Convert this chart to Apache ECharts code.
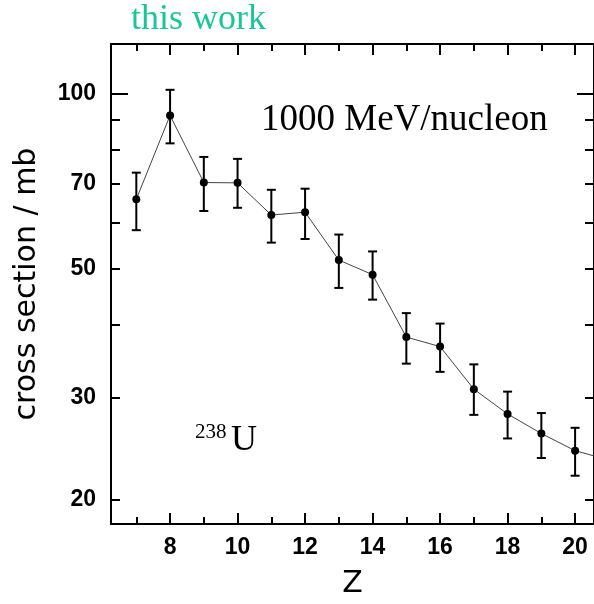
<!DOCTYPE html>
<html>
<head>
<meta charset="utf-8">
<script src="https://cdn.jsdelivr.net/npm/echarts@6/dist/echarts.min.js"></script>
<style>
  html, body { margin: 0; padding: 0; background: #ffffff; }
  #chart { width: 594px; height: 604px; }
</style>
</head>
<body>
<div id="chart"></div>
<script>
// Fragment charge Z and measured cross sections (mb) with error bar bounds
const zValues      = [7, 8, 9, 10, 11, 12, 13, 14, 15, 16, 17, 18, 19, 20, 21];
const crossSection = [65.8, 91.7, 70.3, 70.2, 61.8, 62.5, 51.7, 48.8, 38.1, 36.7, 31.0, 28.1, 26.0, 24.3, 23.4];
const errUpper     = [73.1, 101.5, 77.8, 77.2, 68.3, 68.6, 57.2, 53.5, 41.9, 40.2, 34.2, 30.7, 28.2, 26.6, 25.6];
const errLower     = [58.2, 82.1, 62.8, 63.6, 55.4, 56.2, 46.3, 44.2, 34.3, 33.2, 28.0, 25.5, 23.6, 22.0, 21.3];

// Axis ticks and ranges
const xMajorTicks  = [8, 10, 12, 14, 16, 18, 20];
const xMinorTicks  = [7, 9, 11, 13, 15, 17, 19];
const yLabelTicks  = [20, 30, 50, 70, 100];
const yMinorTicks  = [20, 30, 40, 50, 60, 70, 80, 90];
const yDecadeTicks = [100];
const xRange = [6.25, 20.56];
const yRange = [18.17, 121.7];

// The vertical axis is logarithmic: values are placed by their log10
const lg = Math.log10;

const tickFont = "'Liberation Sans', Arial, sans-serif";
const black = '#000000';

function xAxisDef(position, ticks, len, withLine, withLabels) {
  return {
    type: 'value',
    position: position,
    min: xRange[0],
    max: xRange[1],
    axisLine: { show: withLine, onZero: false, lineStyle: { color: black, width: 2 } },
    axisTick: { show: true, inside: true, length: len, customValues: ticks,
                lineStyle: { color: black, width: 2 } },
    axisLabel: withLabels ? {
      show: true, customValues: ticks, margin: 12,
      color: black, fontFamily: tickFont, fontWeight: 'bold', fontSize: 23
    } : { show: false },
    splitLine: { show: false }
  };
}

function yAxisDef(position, ticks, len, withLine, withLabels) {
  return {
    type: 'value',
    position: position,
    min: lg(yRange[0]),
    max: lg(yRange[1]),
    axisLine: { show: withLine, onZero: false, lineStyle: { color: black, width: 2 } },
    axisTick: { show: true, inside: true, length: len, customValues: ticks.map(lg),
                lineStyle: { color: black, width: 2 } },
    axisLabel: withLabels ? {
      show: true, customValues: yLabelTicks.map(lg), margin: 15,
      formatter: v => String(Math.round(Math.pow(10, v))),
      color: black, fontFamily: tickFont, fontWeight: 'bold', fontSize: 23
    } : { show: false },
    splitLine: { show: false }
  };
}

const xBottom = xAxisDef('bottom', xMajorTicks, 11, true, true);
xBottom.name = 'Z';
xBottom.nameLocation = 'middle';
xBottom.nameGap = 45;
xBottom.nameTextStyle = { color: black, fontFamily: 'DejaVu Sans', fontSize: 30 };

const yLeft = yAxisDef('left', yMinorTicks, 9, true, true);
yLeft.name = 'cross section / mb';
yLeft.nameLocation = 'middle';
yLeft.nameRotate = 90;
yLeft.nameGap = 69;
yLeft.nameTextStyle = { color: black, fontFamily: 'DejaVu Sans', fontSize: 30 };

const points = zValues.map((z, i) => [z, lg(crossSection[i])]);
const bars = zValues.map((z, i) => [z, lg(errLower[i]), lg(errUpper[i])]);

const chart = echarts.init(document.getElementById('chart'), null, { renderer: 'canvas' });

chart.setOption({
  animation: false,
  backgroundColor: '#ffffff',
  grid: { left: 111, top: 44, width: 485, height: 484, containLabel: false },
  xAxis: [
    xBottom,
    xAxisDef('bottom', xMinorTicks, 7, false, false),
    xAxisDef('top', xMajorTicks, 11, true, false),
    xAxisDef('top', xMinorTicks, 7, false, false)
  ],
  yAxis: [
    yLeft,
    yAxisDef('left', yDecadeTicks, 17, false, false),
    yAxisDef('right', yMinorTicks, 9, true, false),
    yAxisDef('right', yDecadeTicks, 17, false, false)
  ],
  series: [
    {
      type: 'custom',
      xAxisIndex: 0,
      yAxisIndex: 0,
      clip: true,
      data: bars,
      renderItem: function (params, api) {
        const x = api.coord([api.value(0), api.value(1)])[0];
        const yLo = api.coord([api.value(0), api.value(1)])[1];
        const yHi = api.coord([api.value(0), api.value(2)])[1];
        const cap = 4.5;
        const style = { stroke: black, lineWidth: 2, fill: null };
        return {
          type: 'group',
          children: [
            { type: 'line', shape: { x1: x, y1: yLo, x2: x, y2: yHi }, style: style },
            { type: 'line', shape: { x1: x - cap, y1: yLo, x2: x + cap, y2: yLo }, style: style },
            { type: 'line', shape: { x1: x - cap, y1: yHi, x2: x + cap, y2: yHi }, style: style }
          ]
        };
      },
      z: 2
    },
    {
      type: 'line',
      xAxisIndex: 0,
      yAxisIndex: 0,
      data: points,
      clip: true,
      symbol: 'circle',
      symbolSize: 8,
      showSymbol: true,
      lineStyle: { color: '#444444', width: 1 },
      itemStyle: { color: black, borderWidth: 0 },
      z: 3
    }
  ],
  graphic: [
    {
      type: 'text', x: 131, y: 20,
      style: { text: 'this work', fontFamily: "'Liberation Serif', serif", fontSize: 36,
               fill: '#19c699', align: 'left', verticalAlign: 'middle' }
    },
    {
      type: 'text', x: 261, y: 120,
      style: { text: '1000 MeV/nucleon', fontFamily: "'Liberation Serif', serif", fontSize: 37,
               fill: black, align: 'left', verticalAlign: 'middle' }
    },
    {
      type: 'text', x: 195, y: 432,
      style: { text: '238', fontFamily: "'Liberation Serif', serif", fontSize: 21,
               fill: black, align: 'left', verticalAlign: 'middle' }
    },
    {
      type: 'text', x: 231, y: 441,
      style: { text: 'U', fontFamily: "'Liberation Serif', serif", fontSize: 36,
               fill: black, align: 'left', verticalAlign: 'middle' }
    }
  ]
});
</script>
</body>
</html>
